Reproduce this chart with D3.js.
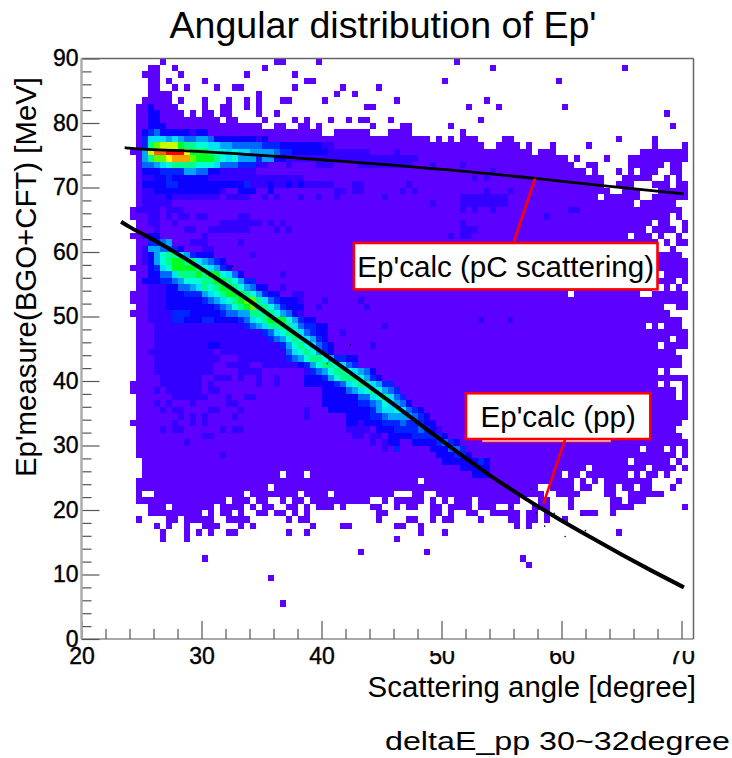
<!DOCTYPE html>
<html>
<head>
<meta charset="utf-8">
<script src="https://cdn.jsdelivr.net/npm/d3@7"></script>
<style>
  html, body { margin: 0; padding: 0; background: #fff; }
  svg { display: block; font-family: "Liberation Sans", Arial, sans-serif; }
</style>
</head>
<body>
<div id="chart"></div>
<script>
// Histogram binning, 0.5 degree by 1 MeV
const angleMin = 20;
const angleBinWidth = 0.5;
const energyTop = 90;

const titleText = "Angular distribution of Ep'";
const xLabelText = "Scattering angle [degree]";
const yLabelText = "Ep'measure(BGO+CFT) [MeV]";
const footerText = "deltaE_pp 30~32degree";

const xMajorTicks = [20, 30, 40, 50, 60, 70];
const xMinorTicks = [22, 24, 26, 28, 32, 34, 36, 38, 42, 44, 46, 48, 52, 54, 56, 58, 62, 64, 66, 68];
const yMajorTicks = [0, 10, 20, 30, 40, 50, 60, 70, 80, 90];
const yMinorTicks = [2, 4, 6, 8, 12, 14, 16, 18, 22, 24, 26, 28, 32, 34, 36, 38, 42, 44, 46, 48, 52, 54, 56, 58, 62, 64, 66, 68, 72, 74, 76, 78, 82, 84, 86, 88];

// Filled bins: one list per energy row from the top, each run is [first column, last column]
const filledRuns = [
  [[13,13],[32,33],[39,39],[62,62]],
  [[11,12],[15,15],[30,30],[68,68],[90,90]],
  [[10,12],[16,16],[27,27],[35,35]],
  [[11,12],[14,14],[20,20],[37,38],[60,60],[79,79]],
  [[11,12],[15,15],[17,17],[22,22],[25,26],[35,35],[43,43],[49,49]],
  [[11,14],[29,29],[42,42],[45,45]],
  [[10,14],[16,16],[20,20],[24,24],[27,27],[29,29],[33,34],[40,40],[52,52],[67,67]],
  [[9,15],[20,20],[23,24],[27,27],[29,29],[47,48],[64,64],[69,69],[80,80]],
  [[9,16],[18,18],[20,21],[23,24],[29,29],[32,32],[97,97]],
  [[9,22],[24,25],[30,30],[35,35],[37,37],[41,41],[44,44],[46,47],[51,51],[66,66]],
  [[9,29],[32,33],[36,37],[39,39],[48,48],[53,54],[61,61],[98,98]],
  [[9,39],[42,47],[51,54],[63,63]],
  [[9,57],[59,59],[61,61],[63,65],[70,71],[89,89],[95,95]],
  [[9,66],[69,72],[74,74],[78,78],[84,84],[95,95],[100,100]],
  [[8,74],[76,78],[93,100]],
  [[9,80],[82,82],[87,87],[91,100]],
  [[9,81],[84,85],[91,96],[98,99]],
  [[9,83],[85,85],[89,89],[91,91],[93,95],[98,99]],
  [[9,86],[90,94],[97,97],[99,99]],
  [[9,86],[89,91],[95,97],[99,100]],
  [[9,87],[90,92],[96,100]],
  [[9,85],[87,92],[95,100]],
  [[9,91],[93,98]],
  [[8,99]],
  [[8,97],[99,99]],
  [[9,94],[96,97],[100,100]],
  [[9,93],[95,98],[100,100]],
  [[8,90],[92,94],[96,96],[99,99]],
  [[9,95],[97,97],[99,100]],
  [[9,95],[98,98]],
  [[9,99]],
  [[9,100]],
  [[8,100]],
  [[9,95],[97,100]],
  [[9,98],[100,100]],
  [[9,94],[97,97],[99,99]],
  [[8,80],[82,92],[95,100]],
  [[8,100]],
  [[9,96],[99,100]],
  [[8,97]],
  [[9,99]],
  [[9,93],[95,95],[97,99]],
  [[9,100]],
  [[9,97],[99,100]],
  [[9,95],[97,100]],
  [[9,98]],
  [[9,99]],
  [[9,99]],
  [[9,95],[97,97]],
  [[9,100]],
  [[8,95],[97,97],[100,100]],
  [[8,98],[100,100]],
  [[9,98],[100,100]],
  [[9,100]],
  [[9,100]],
  [[9,100]],
  [[8,99]],
  [[9,98]],
  [[9,99]],
  [[9,100]],
  [[9,92],[94,96],[98,98],[100,100]],
  [[9,98],[100,100]],
  [[10,90],[92,97],[99,99]],
  [[10,83],[85,93],[95,98],[100,100]],
  [[10,32],[34,36],[38,79],[81,82],[84,90],[92,92],[94,95],[97,97]],
  [[9,55],[57,81],[83,83],[85,85],[87,94],[99,99]],
  [[9,30],[32,75],[78,81],[83,84],[87,88],[90,91],[93,94],[98,98]],
  [[9,9],[12,26],[28,35],[37,40],[42,51],[55,56],[59,76],[79,82],[87,88],[91,96]],
  [[9,23],[25,27],[29,30],[33,33],[35,36],[38,47],[50,50],[52,56],[58,58],[60,60],[62,64],[66,72],[76,77],[81,81],[88,89],[91,93]],
  [[11,13],[15,21],[23,26],[28,28],[30,31],[34,35],[37,37],[39,41],[43,43],[48,49],[52,52],[54,55],[58,59],[61,64],[66,68],[71,71],[75,77],[81,81],[88,91],[100,100]],
  [[11,19],[21,21],[23,24],[26,26],[29,30],[32,33],[35,35],[37,37],[49,50],[58,59],[61,61],[64,65],[68,72],[74,75],[77,77],[83,85],[88,88]],
  [[9,9],[14,15],[17,21],[24,27],[34,34],[36,37],[49,49],[54,55],[58,58],[60,61],[66,66],[71,72],[74,75],[77,77],[80,80]],
  [[12,12],[14,14],[17,17],[20,22],[26,26],[28,28],[38,38],[43,44],[52,53],[56,56],[72,72],[74,74]],
  [[13,13],[17,17],[19,19],[21,21],[24,25],[34,34],[37,37],[56,56],[60,60],[89,89]],
  [[13,13],[17,17],[52,52]],
  [],
  [[46,46],[57,57]],
  [[20,20],[73,73]],
  [[74,74]],
  [],
  [[31,31]],
  [],
  [],
  [],
  [[33,33]]
];

// Bins above the lowest colour level: [row, first column, one level character per column]
const hotBins = [
  [7,11,"2"],[8,11,"22"],[9,11,"22"],[10,11,"222"],
  [11,10,"23422222122"],
  [12,10,"366656544554222222212"],
  [13,10,"38abbb98877665544444333222222211"],
  [14,10,"5beefffc999877676655554332222221111111"],[14,52,"1"],
  [15,10,"58aacddda999876755535522"],[15,34,"1111111111111111111111"],
  [16,10,"445678888777644433311"],[16,34,"1"],[16,39,"111"],[16,46,"111111111"],[16,58,"1"],[16,63,"1"],
  [17,10,"2223333554422111111"],[17,68,"1"],
  [18,10,"1122322222211"],[18,23,"11111111111111"],[18,65,"1"],[18,67,"1"],
  [19,10,"22223322222222222311121121211111"],
  [19,45,"11"],[19,54,"1"],
  [20,10,"11222222222221"],[20,26,"222"],[20,31,"2"],[20,42,"11"],[20,45,"11"],[20,53,"1"],[20,55,"1"],[20,67,"1"],[20,71,"1"],
  [21,10,"1111211111111"],[21,24,"1111"],[21,30,"1"],[21,32,"1"],[21,36,"1"],[21,39,"1"],[21,42,"1"],[21,50,"1"],[21,63,"11111111"],
  [22,10,"11111"],[22,58,"1"],[22,63,"11111111"],
  [23,9,"1111"],[23,14,"111"],[23,63,"1"],[23,65,"1"],[23,68,"1"],[23,81,"11"],
  [24,11,"11"],[24,14,"1"],[24,16,"11"],[24,19,"11"],[24,26,"11"],[24,77,"1"],
  [25,11,"11"],[25,15,"1"],[25,23,"1111111"],[25,31,"1"],[25,33,"1"],[25,63,"1"],
  [26,12,"1"],[26,17,"11"],[26,21,"1111111"],[26,32,"1"],[26,34,"1"],[26,63,"111"],
  [27,10,"122"],[27,20,"1"],[27,61,"1"],[27,63,"11"],
  [28,11,"3345"],[28,18,"111"],[28,26,"1"],
  [29,10,"1554432"],[29,20,"11"],
  [30,10,"125788653222"],[30,28,"1"],
  [31,10,"12578998865432"],
  [32,11,"23679999876532"],
  [33,11,"2244688898997642"],[33,33,"1"],
  [34,10,"2223345777889987533"],
  [35,11,"11122445687899875422"],[35,33,"1"],
  [36,11,"1112223335678999875322"],[36,35,"11"],
  [37,11,"1112222223456789aa86432221"],[37,40,"1"],[37,46,"1"],
  [38,11,"11122222222345789a88753222"],[38,39,"1"],[38,47,"1"],
  [39,11,"11113332222234455888875421"],
  [40,11,"1111332223322223467899975322"],[40,66,"1"],[40,71,"1"],
  [41,12,"11111111111111134568888643322"],[41,50,"1"],
  [42,12,"11111111111111111134678864322"],[42,43,"1"],
  [43,12,"11111111111111111113457876532"],
  [44,12,"111111111221111111111357876432"],[44,48,"1"],
  [45,11,"1111111111101111111111146787532"],
  [46,12,"11111111111"],[46,26,"11111111"],[46,34,"345788753322"],
  [47,12,"1111111111"],[47,24,"1111"],[47,30,"111111"],[47,36,"2357887643"],
  [48,12,"1111111111"],[48,26,"1111"],[48,37,"1"],[48,38,"34578876542"],
  [49,13,"1111111"],[49,22,"111"],[49,26,"1"],[49,29,"1"],[49,32,"1"],[49,37,"222"],[49,40,"3578887532"],
  [50,13,"1111111"],[50,21,"1"],[50,29,"1"],[50,32,"1"],[50,37,"222223467886533"],
  [51,12,"1"],[51,14,"111111"],[51,21,"11"],[51,40,"2222456787543"],
  [52,15,"111111"],[52,24,"1"],[52,27,"11"],[52,40,"22222244678643"],
  [53,12,"1"],[53,14,"1"],[53,18,"1"],[53,24,"11"],[53,40,"222222334576542"],
  [54,13,"1"],[54,15,"11"],[54,21,"11"],[54,26,"1"],[54,37,"1"],[54,41,"2222222356676432"],
  [55,16,"1"],[55,18,"1"],[55,20,"1"],[55,25,"1"],[55,37,"1"],[55,44,"22223345555432"],
  [56,15,"1"],[56,18,"1"],[56,20,"1"],[56,44,"221222333433322"],
  [57,13,"1"],[57,15,"11"],[57,23,"1"],[57,25,"11"],[57,44,"1111"],[57,49,"22233334321"],
  [58,20,"11"],[58,45,"11"],[58,48,"11"],[58,51,"2222333332"],
  [59,17,"1"],[59,48,"1"],[59,50,"122"],[59,55,"2222"],[59,59,"3432"],
  [60,50,"1"],[60,52,"3"],[60,58,"222"],[60,61,"443"],
  [61,23,"1"],[61,59,"222"],[61,62,"332"],
  [62,60,"22222232"],[63,63,"22222"],[64,65,"222"]
];

const colorLevels = ["0","1","2","3","4","5","6","7","8","9","a","b","c","d","e","f"];
const colorRamp = ["#5c00ff","#3300ff","#0c00ff","#0024ff","#0068ff","#00a4ff","#00e0ff","#00ffd8",
  "#00ff88","#00ff20","#60ff00","#c8ff00","#ffff00","#ffa000","#ff6000","#ff0000"];

// Calculated curves, [angle, energy]
const pcCurve = [[23.6,76.2],[24,76.1],[29.6,75.6],[33.2,75.2],[36.5,74.8],[39.9,74.3],[42.1,74],[45.7,73.5],
  [49.5,72.9],[52.6,72.4],[57.8,71.4],[63.4,70.3],[66.5,69.7],[70.2,69]];
const ppCurve = [[23.3,64.7],[24,63.9],[26,61.9],[28.2,59.5],[31,56.2],[33.8,52.7],[36.5,49.1],[39.3,45.4],
  [42.9,40.6],[45.7,36.8],[48.5,32.9],[51.3,29],[54,25.4],[56.8,22],[59.6,18.8],[62.4,15.8],[65,13.1],[67.5,10.6],[70.2,8]];
const curveSpecks = [[32.6,57.8],[34,55.3],[40.5,42.7],[42.4,45.6],[55.8,20.4],[57.5,23.2],[58.6,17.5],[59.4,19.5],[60.3,15.9],[61.7,19.2],[62,16.8],[57.9,19.6]];

const width = 732;
const height = 758;

const x = d3.scaleLinear().domain([20, 71]).range([81.5, 693.5]);
const y = d3.scaleLinear().domain([0, 90]).range([639, 58.5]);
const color = d3.scaleOrdinal().domain(colorLevels).range(colorRamp);

const svg = d3.select("#chart").append("svg")
  .attr("width", width)
  .attr("height", height)
  .attr("viewBox", [0, 0, width, height]);

/* Cells */
const levelByBin = new Map();
hotBins.forEach(([row, col, levels]) => {
  Array.from(levels).forEach((lv, k) => {
    levelByBin.set(row + "_" + (col + k), lv);
  });
});

const cells = [];
filledRuns.forEach((runs, row) => {
  runs.forEach(([first, last]) => {
    for (let col = first; col <= last; col++) {
      cells.push({
        angle: angleMin + col * angleBinWidth,
        energy: energyTop - row,
        level: levelByBin.get(row + "_" + col) || "0",
      });
    }
  });
});

svg.append("g").attr("data-name", "cells")
  .attr("shape-rendering", "crispEdges")
  .selectAll("rect")
  .data(cells)
  .join("rect")
  .attr("x", (d) => x(d.angle))
  .attr("y", (d) => y(d.energy))
  .attr("width", (d) => x(d.angle + angleBinWidth) - x(d.angle))
  .attr("height", (d) => y(d.energy - 1) - y(d.energy))
  .attr("fill", (d) => color(d.level));

/* Calculated curves */
const curveLine = d3.line()
  .x((d) => x(d[0]))
  .y((d) => y(d[1]))
  .curve(d3.curveMonotoneX);

svg.append("path").datum(pcCurve)
  .attr("d", curveLine)
  .attr("fill", "none")
  .attr("stroke", "#000")
  .attr("stroke-width", 2.8);

svg.append("path").datum(ppCurve)
  .attr("d", curveLine)
  .attr("fill", "none")
  .attr("stroke", "#000")
  .attr("stroke-width", 4);

svg.append("g").selectAll("circle")
  .data(curveSpecks)
  .join("circle")
  .attr("cx", (d) => x(d[0]))
  .attr("cy", (d) => y(d[1]))
  .attr("r", 0.8)
  .attr("fill", "#000");

/* Axes */
const xAxisMajor = d3.axisBottom(x).tickValues(xMajorTicks).tickSizeInner(-18).tickSizeOuter(0).tickPadding(9);
const xAxisMinor = d3.axisBottom(x).tickValues(xMinorTicks).tickSizeInner(-10).tickSizeOuter(0).tickFormat("");
const yAxisMajor = d3.axisLeft(y).tickValues(yMajorTicks).tickSizeInner(-18).tickSizeOuter(0).tickPadding(3);
const yAxisMinor = d3.axisLeft(y).tickValues(yMinorTicks).tickSizeInner(-10).tickSizeOuter(0).tickFormat("");

function styleAxis(g) {
  g.selectAll(".domain").remove();
  g.selectAll("line").attr("stroke", "#555").attr("stroke-width", 1.2);
  g.selectAll("text")
    .attr("fill", "#000")
    .attr("stroke", "#000")
    .attr("stroke-width", 0.4)
    .style("font-family", '"Liberation Sans", Arial, sans-serif')
    .style("font-size", "23px");
}

svg.append("g").attr("transform", `translate(0,${y(0)})`).call(xAxisMinor).call(styleAxis);
svg.append("g").attr("transform", `translate(0,${y(0)})`).call(xAxisMajor).call(styleAxis);
svg.append("g").attr("transform", `translate(${x(20)},0)`).call(yAxisMinor).call(styleAxis);
svg.append("g").attr("transform", `translate(${x(20)},0)`).call(yAxisMajor).call(styleAxis);

// the tops of the last three x labels are cut off in the original
svg.append("rect").attr("x", x(48)).attr("y", 641).attr("width", x(71) - x(48)).attr("height", 10).attr("fill", "#fff");

// Frame, left edge is heavier and lighter in the original
svg.append("line").attr("x1", x(20)).attr("x2", x(71)).attr("y1", y(90)).attr("y2", y(90)).attr("stroke", "#666").attr("stroke-width", 1.5);
svg.append("line").attr("x1", x(71)).attr("x2", x(71)).attr("y1", y(90)).attr("y2", y(0)).attr("stroke", "#666").attr("stroke-width", 1.5);
svg.append("line").attr("x1", x(20)).attr("x2", x(71)).attr("y1", y(0)).attr("y2", y(0)).attr("stroke", "#555").attr("stroke-width", 1.2);
svg.append("line").attr("x1", x(20)).attr("x2", x(20)).attr("y1", y(90)).attr("y2", y(0)).attr("stroke", "#aaa").attr("stroke-width", 2.4);

/* Annotations */
function annotation({ text, x0, x1, top, bottom, from, to, fontSize }) {
  svg.append("line")
    .attr("x1", x(from[0])).attr("y1", y(from[1]))
    .attr("x2", x(to[0])).attr("y2", y(to[1]))
    .attr("stroke", "#f00")
    .attr("stroke-width", 2.6);
  svg.append("rect")
    .attr("x", x(x0)).attr("y", y(top))
    .attr("width", x(x1) - x(x0)).attr("height", y(bottom) - y(top))
    .attr("fill", "#fff")
    .attr("stroke", "#f00")
    .attr("stroke-width", 2.6);
  svg.append("text")
    .attr("x", x((x0 + x1) / 2)).attr("y", (y(top) + y(bottom)) / 2 + fontSize * 0.35)
    .attr("text-anchor", "middle")
    .attr("font-size", fontSize)
    .attr("fill", "#000")
    .text(text);
}

annotation({ text: "Ep'calc (pC scattering)", x0: 42.7, x1: 68, top: 61.4, bottom: 54.2, from: [57.8, 71.4], to: [56, 61.4], fontSize: 29.6 });

// thin remnant below the pp box
svg.append("rect").attr("x", x(53.4)).attr("y", y(31)).attr("width", x(64.1) - x(53.4)).attr("height", 3).attr("fill", "#fff");
svg.append("line").attr("x1", x(53.4)).attr("x2", x(64.1)).attr("y1", y(31) + 3).attr("y2", y(31) + 3).attr("stroke", "#f00").attr("stroke-width", 1);
annotation({ text: "Ep'calc (pp)", x0: 52.04, x1: 67.4, top: 38.1, bottom: 31, from: [58.5, 21], to: [60.3, 31], fontSize: 29.6 });

/* Titles */
svg.append("text")
  .attr("x", 383).attr("y", 38)
  .attr("text-anchor", "middle")
  .attr("font-size", 37.6)
  .text(titleText);

svg.append("text")
  .attr("x", 696).attr("y", 697)
  .attr("text-anchor", "end")
  .attr("font-size", 29.4)
  .text(xLabelText);

svg.append("text")
  .attr("transform", "translate(36,477) rotate(-90)")
  .attr("font-size", 29.4)
  .text(yLabelText);

svg.append("text")
  .attr("x", 385).attr("y", 750)
  .attr("font-size", 25)
  .attr("textLength", 345)
  .attr("lengthAdjust", "spacingAndGlyphs")
  .text(footerText);
</script>
</body>
</html>
